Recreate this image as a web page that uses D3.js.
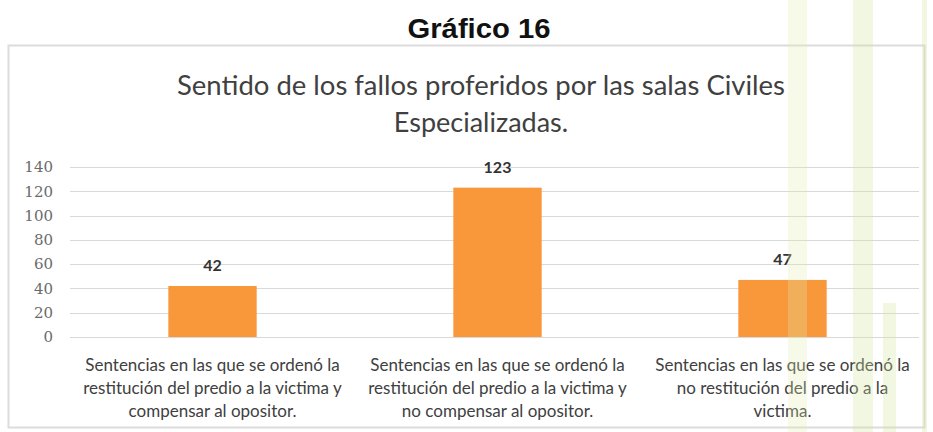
<!DOCTYPE html>
<html>
<head>
<meta charset="utf-8">
<script src="https://cdn.jsdelivr.net/npm/d3@7"></script>
<style>
  body { margin: 0; background: #fff; }
  svg { display: block; }
</style>
</head>
<body>
<div class="chart"></div>
<script>
// chart data
var categories = [
  ["Sentencias en las que se ordenó la", "restitución del predio a la victima y", "compensar al opositor."],
  ["Sentencias en las que se ordenó la", "restitución del predio a la victima y", "no compensar al opositor."],
  ["Sentencias en las que se ordenó la", "no restitución del predio a la", "victima."]
];
var values = [42, 123, 47];
var yTicks = [0, 20, 40, 60, 80, 100, 120, 140];
var heading = "Gráfico 16";
var titleLines = ["Sentido de los fallos proferidos por las salas Civiles", "Especializadas."];

var svgWidth = 933;
var svgHeight = 432;

var margin = { top: 167, bottom: 95, left: 70, right: 8 };
var height = svgHeight - margin.top - margin.bottom;
var width = svgWidth - margin.left - margin.right;

var svg = d3.select(".chart")
  .append("svg")
  .attr("width", svgWidth)
  .attr("height", svgHeight);

// chart frame
svg.append("rect")
  .attr("x", 8.5)
  .attr("y", 45.5)
  .attr("width", 916)
  .attr("height", 382)
  .attr("fill", "#fff")
  .attr("stroke", "#dcdcdc")
  .attr("stroke-width", 2);

// heading above the frame
svg.append("text")
  .attr("x", 479)
  .attr("y", 38)
  .attr("text-anchor", "middle")
  .attr("font-family", "Liberation Sans, Arial, sans-serif")
  .attr("font-weight", "bold")
  .attr("font-size", 28)
  .attr("textLength", 143)
  .attr("lengthAdjust", "spacingAndGlyphs")
  .attr("fill", "#111")
  .text(heading);

// chart title
svg.selectAll(".title")
  .data(titleLines)
  .enter()
  .append("text")
  .attr("class", "title")
  .attr("x", 481)
  .attr("y", (d, i) => 95 + i * 37)
  .attr("text-anchor", "middle")
  .attr("font-family", "Lato, sans-serif")
  .attr("font-size", 27)
  .attr("textLength", (d, i) => i === 0 ? 608 : null)
  .attr("lengthAdjust", "spacingAndGlyphs")
  .attr("fill", "#404040")
  .text(d => d);

var chartGroup = svg.append("g")
  .attr("transform", `translate(${margin.left}, ${margin.top})`);

// scales
var xBandScale = d3.scaleBand()
  .domain(d3.range(values.length))
  .range([0, width])
  .paddingInner(0.69)
  .paddingOuter(0.345);

var yLinearScale = d3.scaleLinear()
  .domain([0, 140])
  .range([height, 0]);

// gridlines
chartGroup.append("g")
  .selectAll("line")
  .data(yTicks)
  .enter()
  .append("line")
  .attr("x1", 0)
  .attr("x2", width - 6)
  .attr("y1", d => Math.round(yLinearScale(d)) + 0.5)
  .attr("y2", d => Math.round(yLinearScale(d)) + 0.5)
  .attr("stroke", "#d9d9d9")
  .attr("stroke-width", 1);

// y axis labels
var yAxis = d3.axisLeft(yLinearScale)
  .tickValues(yTicks)
  .tickSize(0)
  .tickPadding(17);

chartGroup.append("g")
  .call(yAxis)
  .call(g => g.select(".domain").remove())
  .selectAll("text")
  .attr("font-family", "DejaVu Serif, serif")
  .attr("font-size", 15)
  .attr("fill", "#6b6b6b");

// bars
chartGroup.selectAll(".bar")
  .data(values)
  .enter()
  .append("rect")
  .attr("class", "bar")
  .attr("x", (d, i) => xBandScale(i))
  .attr("y", d => yLinearScale(d))
  .attr("width", xBandScale.bandwidth())
  .attr("height", d => height - yLinearScale(d))
  .attr("fill", "#f9973b");

// value labels
chartGroup.selectAll(".value")
  .data(values)
  .enter()
  .append("text")
  .attr("class", "value")
  .attr("x", (d, i) => xBandScale(i) + xBandScale.bandwidth() / 2)
  .attr("y", d => yLinearScale(d) - 15)
  .attr("text-anchor", "middle")
  .attr("font-family", "Lato, sans-serif")
  .attr("font-weight", "bold")
  .attr("font-size", 16)
  .attr("fill", "#333")
  .text(d => d);

// category labels
var catGroup = chartGroup.selectAll(".cat")
  .data(categories)
  .enter()
  .append("text")
  .attr("class", "cat")
  .attr("x", (d, i) => xBandScale(i) + xBandScale.bandwidth() / 2)
  .attr("y", height + 34)
  .attr("text-anchor", "middle")
  .attr("font-family", "Lato, sans-serif")
  .attr("font-size", 17)
  .attr("fill", "#404040");

catGroup.selectAll("tspan")
  .data(d => d)
  .enter()
  .append("tspan")
  .attr("x", function() { return d3.select(this.parentNode).attr("x"); })
  .attr("dy", (d, i) => i === 0 ? 0 : 23)
  .text(d => d);

// faint decorative page stripes seen through the picture
var stripes = [
  { x: 788, y: 0, w: 19, h: 432, c: "#e4eeb0", o: 0.28 },
  { x: 853, y: 0, w: 20, h: 432, c: "#d2e39a", o: 0.3 },
  { x: 883, y: 303, w: 13, h: 129, c: "#d2e39a", o: 0.3 },
  { x: 922, y: 0, w: 5, h: 432, c: "#d2e39a", o: 0.3 }
];
svg.selectAll(".stripe")
  .data(stripes)
  .enter()
  .append("rect")
  .attr("class", "stripe")
  .attr("x", d => d.x)
  .attr("y", d => d.y)
  .attr("width", d => d.w)
  .attr("height", d => d.h)
  .attr("fill", d => d.c)
  .attr("opacity", d => d.o);
</script>
</body>
</html>
